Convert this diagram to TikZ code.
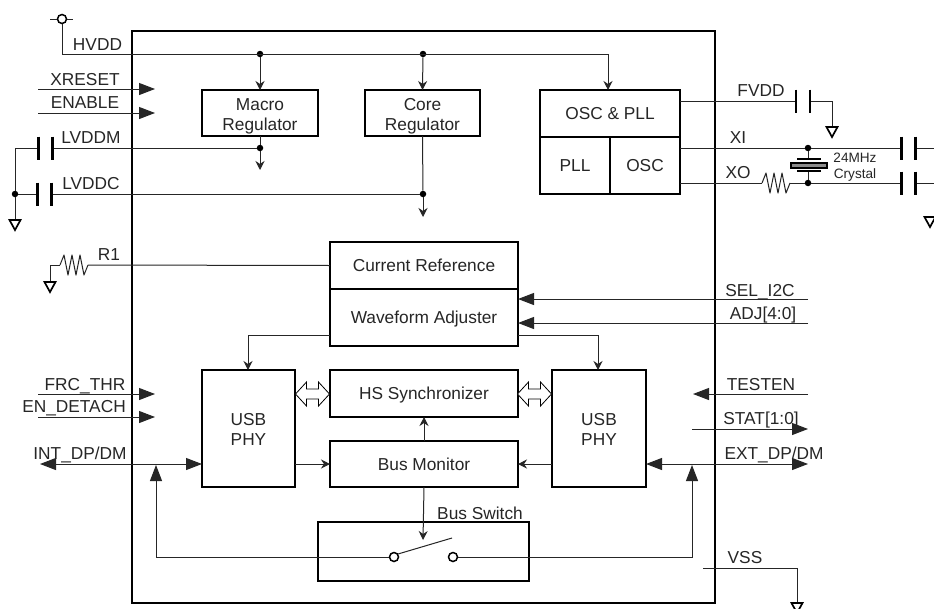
\documentclass[tikz,border=0pt]{standalone}
\usepackage{fontspec}
\setmainfont{Liberation Sans}
\usetikzlibrary{arrows.meta}
\tikzset{
  x=1pt,y=-1pt,
  wire/.style={line width=1pt,draw=black!85},
  thinarrow/.style={wire,-{Stealth[length=9pt,width=9pt,inset=3pt]}},
  fillarrow/.style={wire,-{Triangle[length=16pt,width=12pt]}},
  bothfill/.style={wire,{Triangle[length=16pt,width=12pt]}-{Triangle[length=16pt,width=12pt]}},
  box/.style={draw=black,line width=1.7pt,inner sep=0pt,outer sep=0pt,align=center,font=\lab,text=black!85,text height=12.4pt,text depth=0pt},
  twoline/.style={text height=34.4pt,text depth=0pt},
  lbl/.style={font=\lab,text=black!85,inner sep=0pt,align=center,text height=12.4pt,text depth=0pt},
  smalllbl/.style={font=\fontsize{13.6}{16}\selectfont,text=black!85,inner sep=0pt,align=center,text height=25.8pt,text depth=0pt},
  dotn/.style={circle,fill=black,inner sep=0pt,minimum size=6.5pt},
  hole/.style={circle,draw=black,line width=1.5pt,fill=white,inner sep=0pt,minimum size=9pt},
  cappic/.pic={\draw[line width=2.2pt,draw=black] (-7,-11.5) -- (-7,11.5) (7,-11.5) -- (7,11.5);},
  gndpic/.pic={\draw[line width=1.7pt,draw=black,fill=white,line join=miter] (-5.5,0) -- (5.5,0) -- (0,10) -- cycle;},
  respic/.pic={\draw[wire,fill=white,line join=round] (0,0) -- (4,-10) -- (8,10) -- (12,-10) -- (16,10) -- (20,-10) -- (24,10) -- (28,0);},
  dblpic/.pic={\draw[line width=0.8pt,draw=black,fill=white] (-17,0) -- (-6,-12) -- (-6,-5) -- (6,-5) -- (6,-12) -- (17,0) -- (6,12) -- (6,5) -- (-6,5) -- (-6,12) -- cycle;},
}
\newcommand{\lab}{\fontsize{17.3}{20}\selectfont}
\begin{document}
\begin{tikzpicture}
\useasboundingbox (0,0) rectangle (934,608);
\clip (0,0) rectangle (934,608);
\fill[white] (0,0) rectangle (934,608);

% chip outline
\node[box,minimum width=583pt,minimum height=572pt,line width=2pt] (chip) at (423.5,317) {};

% blocks
\node[box,twoline,minimum width=116pt,minimum height=46pt] (macro) at (260,113) {Macro\\Regulator};
\node[box,twoline,minimum width=115pt,minimum height=46pt] (core) at (422.5,113) {Core\\Regulator};
\node[box,minimum width=140pt,minimum height=47pt] (oscpll) at (610,113.5) {OSC \& PLL};
\node[box,minimum width=70pt,minimum height=57pt] (pll) at (575,165.5) {PLL};
\node[box,minimum width=70pt,minimum height=57pt] (osc) at (645,165.5) {OSC};
\node[box,minimum width=188pt,minimum height=47pt] (curref) at (424,265.5) {Current Reference};
\node[box,minimum width=188pt,minimum height=57pt] (wave) at (424,317.5) {Waveform Adjuster};
\node[box,minimum width=188pt,minimum height=47pt] (hs) at (424,393.5) {HS Synchronizer};
\node[box,minimum width=188pt,minimum height=46pt] (mon) at (424,464) {Bus Monitor};
\node[box,twoline,minimum width=93pt,minimum height=117pt] (usbl) at (248.5,428.5) {USB\\PHY};
\node[box,twoline,minimum width=94pt,minimum height=117pt] (usbr) at (599,428.5) {USB\\PHY};
\node[box,minimum width=211pt,minimum height=59pt] (sw) at (423.5,551.5) {};

% HVDD
\node[hole] (hv) at (62,19) {};
\coordinate (hvl) at (50,19);
\coordinate (hvr) at (73,19);
\coordinate (hvc) at (62,54);
\coordinate (hvo) at (608,54);
\node[dotn] (d1) at (260,54) {};
\node[dotn] (d2) at (423,54) {};
\draw[wire] (hvl) -- (hv) (hv) -- (hvr);
\draw[wire] (hv) -- (hvc) -- (hvo);
\draw[thinarrow] (hvo) -- (608,90);
\draw[thinarrow] (d1) -- (macro.north);
\draw[thinarrow] (d2) -- (core.north);
\node[lbl] (lhv) at (97.5,44) {HVDD};

% left inputs
\coordinate (a1s) at (38,89); \coordinate (a1e) at (155,89);
\coordinate (a2s) at (38,113); \coordinate (a2e) at (155,113);
\coordinate (a3s) at (38,394); \coordinate (a3e) at (155,394);
\coordinate (a4s) at (38,417); \coordinate (a4e) at (155,417);
\draw[fillarrow] (a1s) -- (a1e);
\draw[fillarrow] (a2s) -- (a2e);
\draw[fillarrow] (a3s) -- (a3e);
\draw[fillarrow] (a4s) -- (a4e);
\node[lbl] (lx) at (85,79) {XRESET};
\node[lbl] (le) at (85,102) {ENABLE};
\node[lbl] (lf) at (85,384) {FRC\_THR};
\node[lbl] (ld) at (74,406) {EN\_DETACH};

% LVDDM / LVDDC
\node[dotn] (d3) at (260,148) {};
\node[dotn] (d4) at (423,194) {};
\node[dotn] (d5) at (15,194) {};
\coordinate (lm) at (15,148);
\coordinate (g1) at (15,220);
\coordinate (m2) at (260,170);
\coordinate (c2) at (423,217);
\draw[wire] (lm) -- (d3);
\draw[wire] (lm) -- (d5) -- (g1);
\draw[wire] (d5) -- (d4);
\draw[wire] (macro.south) -- (d3);
\draw[wire] (core.south) -- (d4);
\draw[thinarrow] (d3) -- (m2);
\draw[thinarrow] (d4) -- (c2);
\fill[white] (39,140) rectangle (52,156) (38,186) rectangle (51,202);
\pic at (45.5,148) {cappic};
\pic at (44.5,194) {cappic};
\pic at (g1) {gndpic};
\node[lbl] (lm1) at (91,137) {LVDDM};
\node[lbl] (lc1) at (91,183) {LVDDC};

% R1
\coordinate (r0) at (50,265);
\coordinate (r1) at (60,265);
\coordinate (r2) at (88,265);
\coordinate (g2) at (50,282);
\draw[wire] (g2) -- (r0) -- (r1);
\draw[wire] (r2) -- (curref.west);
\pic at (r1) {respic};
\pic at (g2) {gndpic};
\node[lbl] (lr) at (109,254) {R1};

% right upper
\coordinate (f1) at (796,101);
\coordinate (f2) at (810,101);
\coordinate (f3) at (832,101);
\coordinate (g3) at (832,127);
\coordinate (xr1) at (934,148);
\coordinate (xr2) at (934,183);
\coordinate (xo1) at (762,183);
\coordinate (xo2) at (790,183);
\coordinate (oxi) at (680,148);
\coordinate (oxo) at (680,183);
\coordinate (ofv) at (680,101);
\coordinate (cp1) at (808,158.5);
\coordinate (cp2) at (808,171);
\node[dotn] (d6) at (808,148) {};
\node[dotn] (d7) at (808,183) {};
\draw[wire] (ofv) -- (f1);
\draw[wire] (f2) -- (f3) -- (g3);
\pic at (803,101) {cappic};
\pic at (g3) {gndpic};
\draw[wire] (oxi) -- (d6);
\draw[wire] (d6) -- (xr1);
\draw[wire] (oxo) -- (xo1);
\draw[wire] (xo2) -- (d7) -- (xr2);
\fill[white] (902,175) rectangle (915,191) (902,140) rectangle (915,156);
\pic at (908.5,148) {cappic};
\pic at (908.5,183) {cappic};
\pic at (xo1) {respic};
\draw[wire] (d6) -- (cp1);
\draw[wire] (cp2) -- (d7);
\draw[line width=2pt,draw=black] (797,158.5) -- (821,158.5) (797,171) -- (821,171);
\draw[line width=1.2pt,draw=black,fill=black!45] (791,163) rectangle (827,168);
\pic at (930,217) {gndpic};
\node[lbl] (lfv) at (761,90) {FVDD};
\node[lbl] (lxi) at (738,137) {XI};
\node[lbl] (lxo) at (738,172) {XO};
\node[smalllbl] (lcr) at (855,166) {24MHz\\Crystal};

% waveform adjuster
\coordinate (s1) at (808,299); \coordinate (s2) at (808,323);
\coordinate (wl) at (248,335); \coordinate (wr) at (598,335);
\draw[fillarrow] (s1) -- (wave.east |- s1);
\draw[fillarrow] (s2) -- (wave.east |- s2);
\draw[wire,-{Stealth[length=9pt,width=9pt,inset=3pt]}] (wave.west |- wl) -- (wl) -- (wl |- usbl.north);
\draw[wire,-{Stealth[length=9pt,width=9pt,inset=3pt]}] (wave.east |- wr) -- (wr) -- (wr |- usbr.north);
\node[lbl] (lsel) at (760,290) {SEL\_I2C};
\node[lbl] (ladj) at (763,313) {ADJ[4:0]};

% PHY links
\pic at (312.5,394) {dblpic};
\pic at (534.5,394) {dblpic};
\draw[thinarrow] (mon.north) -- (hs.south);
\draw[thinarrow] (usbl.east |- mon.west) -- (mon.west);
\draw[thinarrow] (usbr.west |- mon.east) -- (mon.east);
\coordinate (swt) at (423,540);
\draw[thinarrow] (mon.south) -- (swt);

% DP/DM
\coordinate (il) at (40,464);
\coordinate (el) at (808,464);
\coordinate (ib) at (156,557);
\coordinate (it) at (156,465);
\coordinate (eb) at (692,557);
\coordinate (et) at (692,465);
\node[hole] (hl) at (394,557) {};
\node[hole] (hr) at (453,557) {};
\coordinate (sl1) at (398,554);
\coordinate (sl2) at (452,538);
\draw[bothfill] (il) -- (usbl.west |- il);
\draw[bothfill] (usbr.east |- el) -- (el);
\draw[wire,-{Triangle[length=16pt,width=12pt]}] (hl) -- (ib) -- (it);
\draw[wire,-{Triangle[length=16pt,width=12pt]}] (hr) -- (eb) -- (et);
\draw[wire] (sl1) -- (sl2);
\node[lbl] (lint) at (80,453) {INT\_DP/DM};
\node[lbl] (lext) at (774,453) {EXT\_DP/DM};
\node[lbl] (lbs) at (480,513) {Bus Switch};

% right lower
\coordinate (t1) at (808,394); \coordinate (t2) at (693,394);
\coordinate (st1) at (692,429); \coordinate (st2) at (808,429);
\coordinate (v1) at (703,568); \coordinate (v2) at (797,568); \coordinate (g4) at (797,603);
\draw[fillarrow] (t1) -- (t2);
\draw[fillarrow] (st1) -- (st2);
\draw[wire] (v1) -- (v2) -- (g4);
\pic at (g4) {gndpic};
\node[lbl] (lt) at (761,384) {TESTEN};
\node[lbl] (lst) at (761,418) {STAT[1:0]};
\node[lbl] (lv) at (745,557) {VSS};
\end{tikzpicture}
\end{document}
